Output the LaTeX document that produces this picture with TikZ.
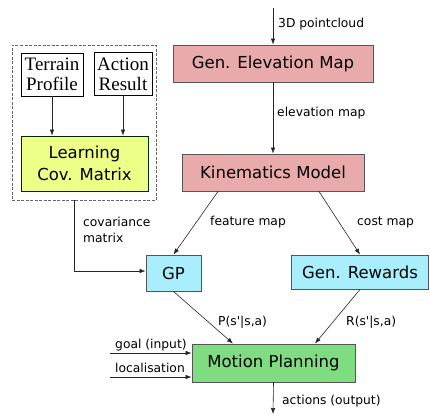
\documentclass[tikz,border=0pt]{standalone}
\usepackage{fontspec}
\setmainfont{DejaVu Sans}
\newfontfamily\serifbox{Liberation Serif}
\usetikzlibrary{arrows.meta}
\definecolor{pinkfill}{HTML}{E8AAAA}
\definecolor{cyanfill}{HTML}{A9EEFC}
\definecolor{greenfill}{HTML}{80DC80}
\definecolor{yellowfill}{HTML}{EEFF88}
\definecolor{boxline}{HTML}{555555}
\tikzset{
  bx/.style={draw=boxline, line width=0.9pt, inner sep=0pt, font=\fontsize{16.5}{18}\selectfont},
  sbx/.style={draw=black, line width=0.7pt, fill=white, inner sep=0pt, align=center, font=\serifbox\fontsize{19}{20}\selectfont},
  lbl/.style={font=\fontsize{12.3}{16}\selectfont, inner sep=0pt, anchor=west, align=left},
  arr/.style={-{Latex[length=6pt,width=4.5pt]}, line width=0.6pt, draw=black!85},
}
\begin{document}
\begin{tikzpicture}[x=1pt,y=-1pt]
\useasboundingbox (0,0) rectangle (430,416);
% boxes
\node[bx, fill=pinkfill, minimum width=200pt, minimum height=37pt] (gem) at (273,63.5) {Gen. Elevation Map};
\node[bx, fill=pinkfill, minimum width=182pt, minimum height=37pt] (km) at (273,172.5) {Kinematics Model};
\node[bx, fill=cyanfill, minimum width=55pt, minimum height=36pt] (gp) at (173.5,273) {GP};
\node[bx, fill=cyanfill, minimum width=137pt, minimum height=34pt] (gr) at (360,272) {Gen. Rewards};
\node[bx, fill=greenfill, minimum width=163pt, minimum height=38pt] (mp) at (273.5,363) {Motion Planning};
% dashed group
\node[draw=black!60, dash pattern=on 3pt off 1.5pt, line width=0.6pt, minimum width=144pt, minimum height=155pt, inner sep=0pt] (grp) at (84,122.5) {};
\node[sbx, minimum width=62pt, minimum height=43pt] (tp) at (52,74.5) {Terrain\\Profile};
\node[sbx, minimum width=58pt, minimum height=43pt] (ar) at (123,74) {Action\\Result};
\node[draw=black!60!green!40!black, line width=0.8pt, fill=yellowfill, minimum width=127pt, minimum height=55pt, inner sep=0pt, align=center, font=\fontsize{16.5}{22}\selectfont] (lcm) at (84.5,163.5) {Learning\\Cov. Matrix};
% coordinates
\coordinate (top) at (273,8);
\coordinate (bot) at (273,414);
\coordinate (goalin) at (110,353);
\coordinate (locin) at (110,377);
\coordinate (cvcorner) at (74,271);
% connectors
\draw[arr] (top) -- (gem.north);
\draw[arr] (gem.south) -- (km.north);
\draw[arr] (km.south -| 218,0) -- (gp.north);
\draw[arr] (km.south -| 319,0) -- (gr.north);
\draw[arr] (gp.south) -- (mp.north -| 233,0);
\draw[arr] (gr.south) -- (mp.north -| 315,0);
\draw[arr] (goalin) -- (goalin -| mp.west);
\draw[arr] (locin) -- (locin -| mp.west);
\draw[arr] (mp.south) -- (bot);
\draw[arr] (tp.south) -- (tp.south |- lcm.north);
\draw[arr] (ar.south) -- (ar.south |- lcm.north);
\draw[arr] (grp.south -| cvcorner) -- (cvcorner) -- (cvcorner -| gp.west);
% labels
\node[lbl] (l1) at (278,24) {3D pointcloud};
\node[lbl] (l2) at (277,113) {elevation map};
\node[lbl] (l3) at (210,222) {feature map};
\node[lbl] (l4) at (357,222) {cost map};
\node[lbl] (l5) at (83,230) {covariance\\matrix};
\node[lbl] (l6) at (218,322) {P(s\textquotesingle|s,a)};
\node[lbl] (l7) at (346,322) {R(s\textquotesingle|s,a)};
\node[lbl] (l8) at (115,345) {goal (input)};
\node[lbl] (l9) at (115,368) {localisation};
\node[lbl] (l10) at (282,401) {actions (output)};
\end{tikzpicture}
\end{document}
